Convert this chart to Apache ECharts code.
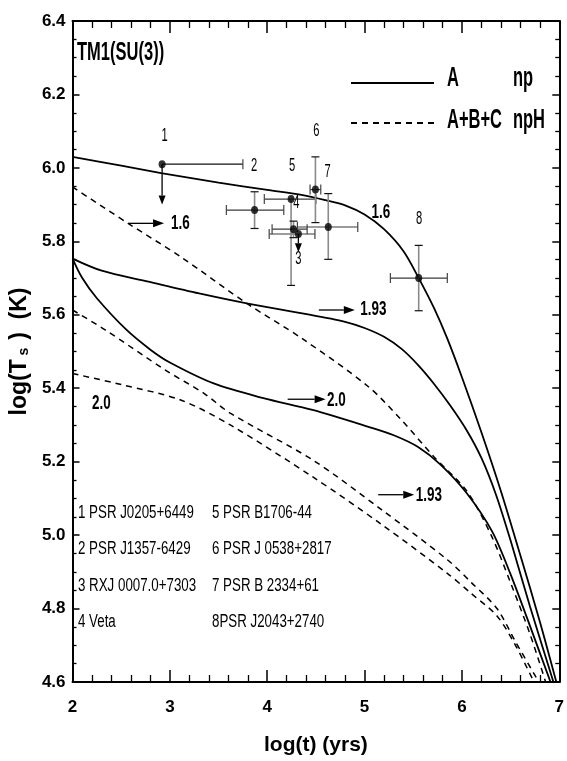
<!DOCTYPE html>
<html><head><meta charset="utf-8">
<script src="https://cdn.jsdelivr.net/npm/echarts@6/dist/echarts.min.js"></script>
<style>html,body{margin:0;padding:0;background:#fff}#c{width:567px;height:761px}</style>
</head><body><div id="c"></div>
<script>
const SANS = "'Liberation Sans',Arial,Helvetica,sans-serif";

// ---- cooling curves (log t, log Ts) ----
const npA16X = [2, 2.5, 2.91, 3.5, 4.0, 4.364, 4.6, 4.8, 5.0, 5.2, 5.4, 5.556, 5.714, 5.85, 6.0, 6.2, 6.4, 6.6, 6.8, 6.97];
const npA16Y = [6.03, 6.006, 5.986, 5.96, 5.94, 5.926, 5.912, 5.898, 5.873, 5.833, 5.773, 5.70, 5.618, 5.535, 5.43, 5.28, 5.12, 4.945, 4.765, 4.6];
const npA193X = [2, 2.3, 2.78, 3.3, 3.79, 4.36, 4.8, 5.0, 5.2, 5.38, 5.55, 5.71, 5.88, 6.05, 6.2, 6.35, 6.5, 6.7, 6.94];
const npA193Y = [5.753, 5.72, 5.69, 5.658, 5.631, 5.604, 5.581, 5.564, 5.54, 5.507, 5.463, 5.413, 5.353, 5.285, 5.21, 5.11, 4.985, 4.805, 4.6];
const npA20X = [2, 2.1, 2.25, 2.55, 2.8, 3.0, 3.45, 3.96, 4.465, 5.04, 5.3, 5.55, 5.78, 6.05, 6.31, 6.5, 6.7, 6.91];
const npA20Y = [5.753, 5.70, 5.645, 5.56, 5.505, 5.47, 5.413, 5.373, 5.341, 5.295, 5.272, 5.24, 5.192, 5.114, 5.01, 4.893, 4.752, 4.6];
const npH16X = [2, 2.57, 3.11, 3.79, 4.36, 5.04, 5.38, 5.71, 6.05, 6.3, 6.5, 6.7, 6.86];
const npH16Y = [5.948, 5.849, 5.758, 5.631, 5.535, 5.404, 5.313, 5.214, 5.12, 5.0, 4.87, 4.73, 4.6];
const npH193X = [2, 2.34, 2.95, 3.35, 3.62, 4.465, 5.17, 5.85, 6.1, 6.36, 6.55, 6.79];
const npH193Y = [5.613, 5.558, 5.45, 5.386, 5.332, 5.205, 5.07, 4.933, 4.87, 4.80, 4.71, 4.6];
const npH20X = [2, 2.5, 3.11, 3.62, 4.465, 5.17, 5.85, 6.1, 6.36, 6.55, 6.74];
const npH20Y = [5.44, 5.41, 5.368, 5.30, 5.159, 5.03, 4.896, 4.84, 4.78, 4.70, 4.6];

// ---- observed pulsars ----
const ptNames = ['1', '2', '3', '4', '5', '6', '7', '8'];
const ptX = [2.92, 3.87, 4.32, 4.245, 4.27, 4.495, 4.627, 5.556];
const ptY = [6.01, 5.885, 5.82, 5.915, 5.833, 5.941, 5.839, 5.70];
const ptXLow = [2.92, 3.58, 4.02, 3.97, 4.05, 4.44, 4.31, 5.265];
const ptXHigh = [3.75, 4.17, 4.49, 4.50, 4.41, 4.55, 4.93, 5.85];
const ptYLow = [null, 5.835, null, 5.68, 5.81, 5.851, 5.751, 5.611];
const ptYHigh = [null, 5.935, null, 5.915, 5.855, 6.03, 5.93, 5.789];
const ptUpperLimitTo = [5.90, null, 5.77, null, null, null, null, null];
const ptLabelX = [2.945, 3.865, 4.32, 4.30, 4.255, 4.505, 4.62, 5.56];
const ptLabelY = [6.087, 6.005, 5.753, 5.903, 6.005, 6.10, 5.99, 5.86];

// ---- curve annotations ----
const annText = ['1.6', '1.6', '1.93', '2.0', '2.0', '1.93'];
const annX = [3.108, 5.167, 5.09, 4.71, 2.297, 5.66];
const annY = [5.849, 5.88, 5.616, 5.368, 5.36, 5.108];
const annArrowFrom = [2.57, null, 4.53, 4.21, null, 5.14];
const annArrowTo = [2.94, null, 4.90, 4.60, null, 5.51];
const annArrowY = [5.849, null, 5.613, 5.37, null, 5.11];

// ---- text ----
const titleText = 'TM1(SU(3))';
const legendNames = ['A np', 'A+B+C npH'];
const legendCol1 = ['A', 'A+B+C'];
const legendCol2 = ['np', 'npH'];
const xTicks = [2, 3, 4, 5, 6, 7];
const srcCol1 = ['1 PSR J0205+6449', '2 PSR J1357-6429', '3 RXJ 0007.0+7303', '4 Veta'];
const srcCol2 = ['5 PSR B1706-44', '6 PSR J 0538+2817', '7 PSR B 2334+61', '8PSR J2043+2740'];

const zip = (xs, ys) => xs.map((x, i) => [x, ys[i]]);
const isNum = v => v !== null && v !== undefined && !isNaN(v);

const chart = echarts.init(document.getElementById('c'));

function lineSeries(name, xs, ys, dashed) {
  return {
    type: 'line', name: name, data: zip(xs, ys), showSymbol: false, symbol: 'none',
    smooth: 0.3, silent: true,
    itemStyle: { color: '#000' },
    lineStyle: { color: '#000', width: dashed ? 1.5 : 1.8, type: dashed ? [6, 5] : 'solid' },
    z: 3
  };
}

function errRender(params, api) {
  const i = params.dataIndex;
  const x = ptX[i], y = ptY[i];
  const ch = [];
  const xl = ptXLow[i], xh = ptXHigh[i], yl = ptYLow[i], yh = ptYHigh[i];
  if (isNum(xl) && isNum(xh)) {
    const a = api.coord([xl, y]), b = api.coord([xh, y]);
    ch.push({ type: 'line', shape: { x1: a[0], y1: a[1], x2: b[0], y2: b[1] }, style: { stroke: i === 0 ? '#111' : '#3a3a3a', lineWidth: 1.2 } });
    if (xl < x) ch.push({ type: 'line', shape: { x1: a[0], y1: a[1] - 5, x2: a[0], y2: a[1] + 5 }, style: { stroke: '#444', lineWidth: 1.2 } });
    ch.push({ type: 'line', shape: { x1: b[0], y1: b[1] - 5, x2: b[0], y2: b[1] + 5 }, style: { stroke: '#444', lineWidth: 1.2 } });
  }
  if (isNum(yl) && isNum(yh)) {
    const a = api.coord([x, yl]), b = api.coord([x, yh]);
    ch.push({ type: 'line', shape: { x1: a[0], y1: a[1], x2: b[0], y2: b[1] }, style: { stroke: '#8a8a8a', lineWidth: 1.6 } });
    ch.push({ type: 'line', shape: { x1: a[0] - 4, y1: a[1], x2: a[0] + 4, y2: a[1] }, style: { stroke: '#111', lineWidth: 1.2 } });
    if (yh > y) ch.push({ type: 'line', shape: { x1: b[0] - 4, y1: b[1], x2: b[0] + 4, y2: b[1] }, style: { stroke: '#111', lineWidth: 1.2 } });
  }
  return { type: 'group', children: ch };
}

function arrowShape(p1, p2, L, w) {
  const dx = p2[0] - p1[0], dy = p2[1] - p1[1];
  const len = Math.sqrt(dx * dx + dy * dy) || 1;
  const ux = dx / len, uy = dy / len;
  const bx = p2[0] - ux * L, by = p2[1] - uy * L;
  const px = -uy, py = ux;
  return [
    { type: 'line', shape: { x1: p1[0], y1: p1[1], x2: bx, y2: by }, style: { stroke: '#000', lineWidth: 1.3 } },
    { type: 'polygon', shape: { points: [[p2[0], p2[1]], [bx + px * w, by + py * w], [bx - px * w, by - py * w]] }, style: { fill: '#000' } }
  ];
}

const limitData = [];
ptUpperLimitTo.forEach((v, i) => { if (isNum(v)) limitData.push([ptX[i], ptY[i], ptX[i], v]); });
const annArrowData = [];
annArrowFrom.forEach((v, i) => { if (isNum(v)) annArrowData.push([v, annArrowY[i], annArrowTo[i], annArrowY[i]]); });

function arrowRender(L, w) {
  return function (params, api) {
    const p1 = api.coord([api.value(0), api.value(1)]);
    const p2 = api.coord([api.value(2), api.value(3)]);
    return { type: 'group', children: arrowShape(p1, p2, L, w) };
  };
}

function textRender(texts, font, sx) {
  return function (params, api) {
    const p = api.coord([api.value(0), api.value(1)]);
    return { type: 'text', x: p[0], y: p[1], scaleX: sx, style: { text: texts[params.dataIndex], font: font, fill: '#000', align: 'center', verticalAlign: 'middle' } };
  };
}

const axisCommonX = {
  type: 'value', min: 2, max: 7, interval: 1,
  axisLine: { onZero: false, lineStyle: { color: '#000', width: 2 } },
  axisTick: { inside: true, length: 12, lineStyle: { color: '#000', width: 1.5 } },
  minorTick: { show: true, splitNumber: 5, length: 7, lineStyle: { color: '#000', width: 1.3 } },
  splitLine: { show: false }, minorSplitLine: { show: false }
};
const axisCommonY = {
  type: 'value', min: 4.6, max: 6.4, interval: 0.2,
  axisLine: { onZero: false, lineStyle: { color: '#000', width: 2 } },
  axisTick: { inside: true, length: 7, lineStyle: { color: '#000', width: 1.5 } },
  minorTick: { show: true, splitNumber: 4, length: 4, lineStyle: { color: '#000', width: 1.3 } },
  splitLine: { show: false }, minorSplitLine: { show: false }
};

function condText(t, x, y, font, sx, align) {
  return { type: 'text', x: x, y: y, scaleX: sx, silent: true, style: { text: t, font: font, fill: '#000', align: align || 'left', verticalAlign: 'middle' } };
}
const graphics = [];
graphics.push(condText(titleText, 77, 53, 'bold 26px ' + SANS, 0.635));
legendCol1.forEach((t, i) => graphics.push(condText(t, 447, 79 + i * 42, 'bold 27px ' + SANS, 0.61)));
legendCol2.forEach((t, i) => graphics.push(condText(t, 513, 79 + i * 42, 'bold 27px ' + SANS, 0.61)));
srcCol1.forEach((t, i) => graphics.push(condText(t, 78, 513 + i * 36.5, '18px ' + SANS, 0.74)));
srcCol2.forEach((t, i) => graphics.push(condText(t, 212, 513 + i * 36.5, '18px ' + SANS, 0.74)));

chart.setOption({
  animation: false,
  backgroundColor: '#fff',
  grid: { left: 67, right: 7, top: 21, bottom: 79, containLabel: false },
  legend: {
    orient: 'vertical', left: 345, top: 72, itemWidth: 83, itemHeight: 14, itemGap: 28, selectedMode: false,
    data: legendNames,
    formatter: () => ' ',
    itemStyle: { opacity: 0 },
    textStyle: { fontSize: 12 }
  },
  xAxis: [
    Object.assign({}, axisCommonX, {
      position: 'bottom',
      axisLabel: { margin: 17, color: '#000', fontFamily: SANS, fontWeight: 'bold', fontSize: 17, formatter: v => xTicks.indexOf(v) >= 0 ? String(v) : '' },
      name: 'log(t) (yrs)', nameLocation: 'middle', nameGap: 53,
      nameTextStyle: { fontFamily: SANS, fontWeight: 'bold', fontSize: 21, color: '#000' }
    }),
    Object.assign({}, axisCommonX, { position: 'top', axisLabel: { show: false } })
  ],
  yAxis: [
    Object.assign({}, axisCommonY, {
      position: 'left',
      axisLabel: { margin: 7, color: '#000', fontFamily: SANS, fontWeight: 'bold', fontSize: 17, formatter: v => v.toFixed(1) },
      name: '{m|log(T}{s| s  }{m|)  (K)}', nameLocation: 'middle', nameGap: 24, nameRotate: 90,
      nameTextStyle: {
        rich: {
          m: { fontFamily: SANS, fontWeight: 'bold', fontSize: 23, color: '#000' },
          s: { fontFamily: SANS, fontWeight: 'bold', fontSize: 14, color: '#000', padding: [9, 0, 0, 0] }
        }
      }
    }),
    Object.assign({}, axisCommonY, { position: 'right', axisLabel: { show: false } })
  ],
  graphic: graphics,
  series: [
    lineSeries(legendNames[0], npA16X, npA16Y, false),
    lineSeries(legendNames[0], npA193X, npA193Y, false),
    lineSeries(legendNames[0], npA20X, npA20Y, false),
    lineSeries(legendNames[1], npH16X, npH16Y, true),
    lineSeries(legendNames[1], npH193X, npH193Y, true),
    lineSeries(legendNames[1], npH20X, npH20Y, true),
    { type: 'custom', name: 'err', data: zip(ptX, ptY), encode: { x: 0, y: 1 }, renderItem: errRender, silent: true, z: 4 },
    { type: 'custom', name: 'limits', data: limitData, encode: { x: [0, 2], y: [1, 3] }, renderItem: arrowRender(9, 3.5), silent: true, z: 4 },
    { type: 'scatter', name: 'pts', data: zip(ptX, ptY), symbol: 'circle', symbolSize: [7, 8], itemStyle: { color: '#000' }, silent: true, z: 5 },
    { type: 'custom', name: 'ptLabels', data: zip(ptLabelX, ptLabelY), encode: { x: 0, y: 1 }, renderItem: textRender(ptNames, '18px ' + SANS, 0.62), silent: true, z: 6 },
    { type: 'custom', name: 'annArrows', data: annArrowData, encode: { x: [0, 2], y: [1, 3] }, renderItem: arrowRender(11, 4), silent: true, z: 6 },
    { type: 'custom', name: 'annText', data: zip(annX, annY), encode: { x: 0, y: 1 }, renderItem: textRender(annText, 'bold 21px ' + SANS, 0.64), silent: true, z: 6 }
  ]
});
</script></body></html>
